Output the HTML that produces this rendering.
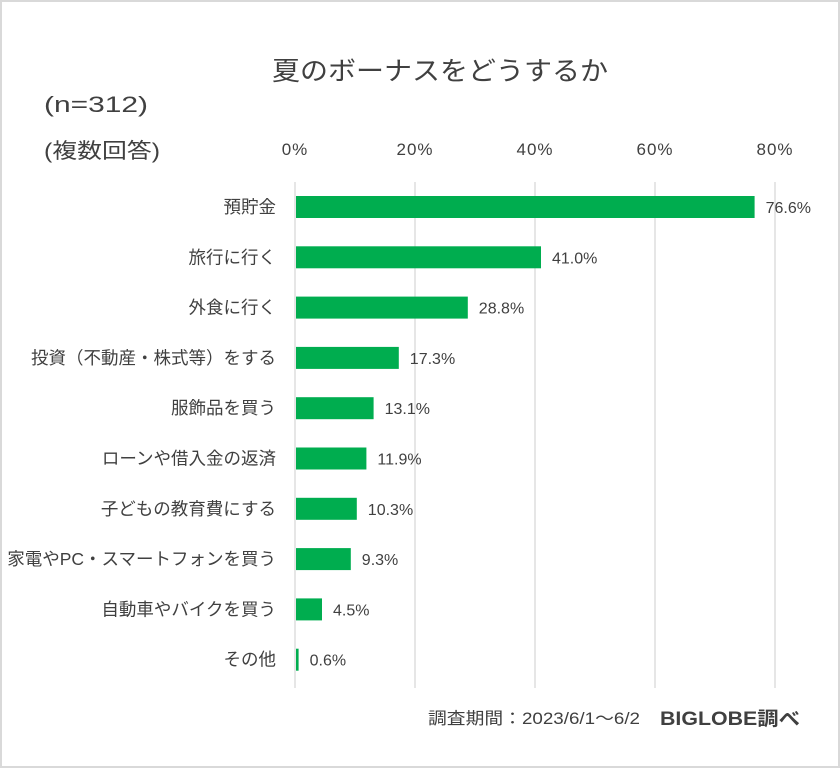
<!DOCTYPE html>
<html><head><meta charset="utf-8"><style>
body{margin:0;background:#fff}
svg{display:block}
text{font-family:"Liberation Sans","Noto Sans CJK JP",sans-serif;fill:#404040}
</style></head><body>
<svg id="c" width="840" height="768">
<rect x="1" y="1" width="838" height="766" fill="#fff" stroke="#d9d9d9" stroke-width="2"/>
<text x="272" y="80" font-size="26" textLength="336" lengthAdjust="spacingAndGlyphs">夏のボーナスをどうするか</text>
<text x="44" y="112" font-size="22" textLength="104" lengthAdjust="spacingAndGlyphs">(n=312)</text>
<text x="44" y="158" font-size="21" textLength="116" lengthAdjust="spacingAndGlyphs">(複数回答)</text>
<g id="grid"></g><g id="bars"></g>
<text x="428" y="724" font-size="16.5" textLength="212" lengthAdjust="spacingAndGlyphs">調査期間：2023/6/1～6/2</text>
<text x="660" y="725" font-size="19" font-weight="bold" textLength="140" lengthAdjust="spacingAndGlyphs">BIGLOBE調べ</text>
</svg>
<script>
const categories=["預貯金","旅行に行く","外食に行く","投資（不動産・株式等）をする","服飾品を買う","ローンや借入金の返済","子どもの教育費にする","家電やPC・スマートフォンを買う","自動車やバイクを買う","その他"];
const values=[76.6,41.0,28.8,17.3,13.1,11.9,10.3,9.3,4.5,0.6];
const ticks=[0,20,40,60,80];
const NS="http://www.w3.org/2000/svg";
const x0=295,pxPer=6,yTop=182,yBot=688,rowH=50.3,firstC=207,barH=22;
const xs=v=>x0+v*pxPer, yc=i=>firstC+i*rowH;
const g=document.getElementById('grid'),b=document.getElementById('bars');
function mk(t,a,p){const e=document.createElementNS(NS,t);for(const k in a)e.setAttribute(k,a[k]);p.appendChild(e);return e;}
ticks.forEach(t=>{
 const l=mk('line',{x1:xs(t),x2:xs(t),y1:yTop,y2:yBot,stroke:'#d9d9d9','stroke-width':1.3},g);
 
 
 const tx=mk('text',{x:xs(t),y:155,'font-size':17,'text-anchor':'middle','letter-spacing':1},g);tx.textContent=t+'%';
 
 
});
categories.forEach((c,i)=>{
 const r=mk('rect',{x:x0+1,y:yc(i)-barH/2,width:Math.max(values[i]*pxPer-1,2),height:barH,fill:'#00ad4f'},b);
 
 
 const lb=mk('text',{x:276,y:yc(i)+6,'font-size':17.5,'text-anchor':'end'},b);lb.textContent=c;
 
 
 const v=mk('text',{x:xs(values[i])+11,y:yc(i)+6,'font-size':16},b);v.textContent=values[i].toFixed(1)+'%';
 
 
});
</script>
</body></html>
